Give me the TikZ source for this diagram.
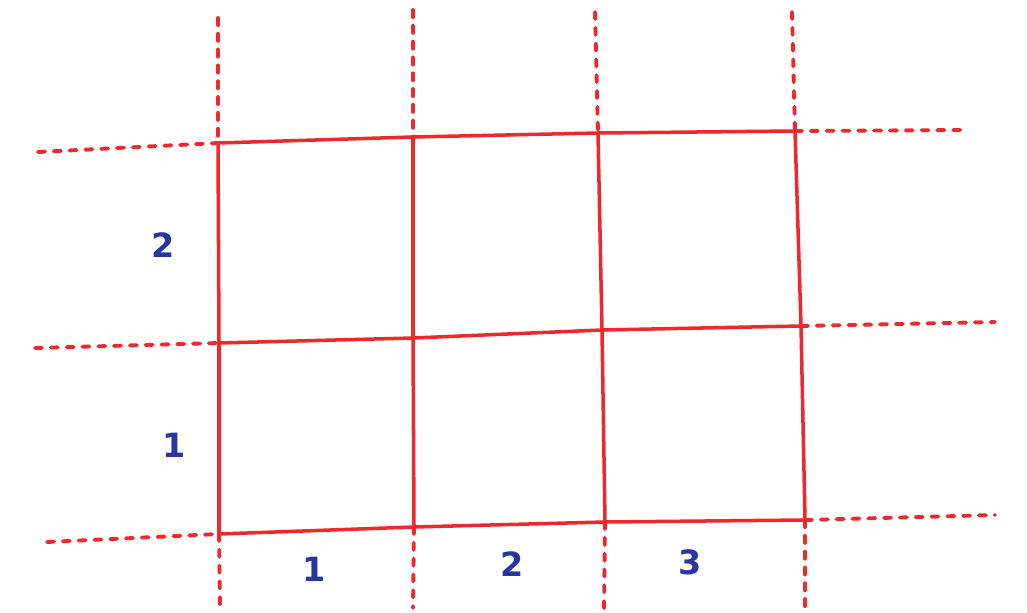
\documentclass[tikz,border=0pt]{standalone}
\usepackage{fontspec}
\setsansfont{DejaVu Sans}
\definecolor{penred}{RGB}{240,40,45}
\definecolor{penblue}{RGB}{40,55,160}
\begin{document}
\begin{tikzpicture}[x=0.02cm,y=-0.02cm,
  solidline/.style={draw=penred, line width=2pt, line cap=round, line join=round},
  dashline/.style={draw=penred, line width=2.2pt, line cap=round, dash pattern=on 4pt off 5pt},
  lbl/.style={text=penblue, font=\sffamily\bfseries\fontsize{19}{22}\selectfont}]
\useasboundingbox (0,0) rectangle (1027,612);
\fill[white] (0,0) rectangle (1027,612);
% grid corners
\coordinate (A1) at (218,143); \coordinate (A2) at (413,137); \coordinate (A3) at (598,133); \coordinate (A4) at (795,131);
\coordinate (B1) at (219,343); \coordinate (B2) at (413,338); \coordinate (B3) at (602,330); \coordinate (B4) at (801,326);
\coordinate (C1) at (219,534); \coordinate (C2) at (414,527); \coordinate (C3) at (605,522); \coordinate (C4) at (805,520);
% dashed ends
\coordinate (T1) at (218,18); \coordinate (T2) at (413,10); \coordinate (T3) at (595,12); \coordinate (T4) at (792,12);
\coordinate (D1) at (220,608); \coordinate (D2) at (413,608); \coordinate (D3) at (604,610); \coordinate (D4) at (805,608);
\coordinate (L1) at (38,152); \coordinate (L2) at (35,348); \coordinate (L3) at (47,542);
\coordinate (R1) at (968,130); \coordinate (R2) at (995,322); \coordinate (R3) at (995,515);
% solid grid
\draw[solidline] (A1) -- (A2) -- (A3) -- (A4);
\draw[solidline] (B1) -- (B2) -- (B3) -- (B4);
\draw[solidline] (C1) -- (C2) -- (C3) -- (C4);
\draw[solidline] (A1) -- (B1) -- (C1);
\draw[solidline] (A2) -- (B2) -- (C2);
\draw[solidline] (A3) -- (B3) -- (C3);
\draw[solidline] (A4) -- (B4) -- (C4);
% dashed extensions
\foreach \i/\j in {T1/A1,T2/A2,T3/A3,T4/A4,C1/D1,C2/D2,C3/D3,C4/D4,L1/A1,L2/B1,L3/C1,A4/R1,B4/R2,C4/R3}
  \draw[dashline] (\i) -- (\j);
% labels
\node[lbl] (r2) at (163,245) {2};
\node[lbl] (r1) at (174,445) {1};
\node[lbl] (c1) at (314,569) {1};
\node[lbl] (c2) at (512,564) {2};
\node[lbl] (c3) at (690,562) {3};
\end{tikzpicture}
\end{document}
